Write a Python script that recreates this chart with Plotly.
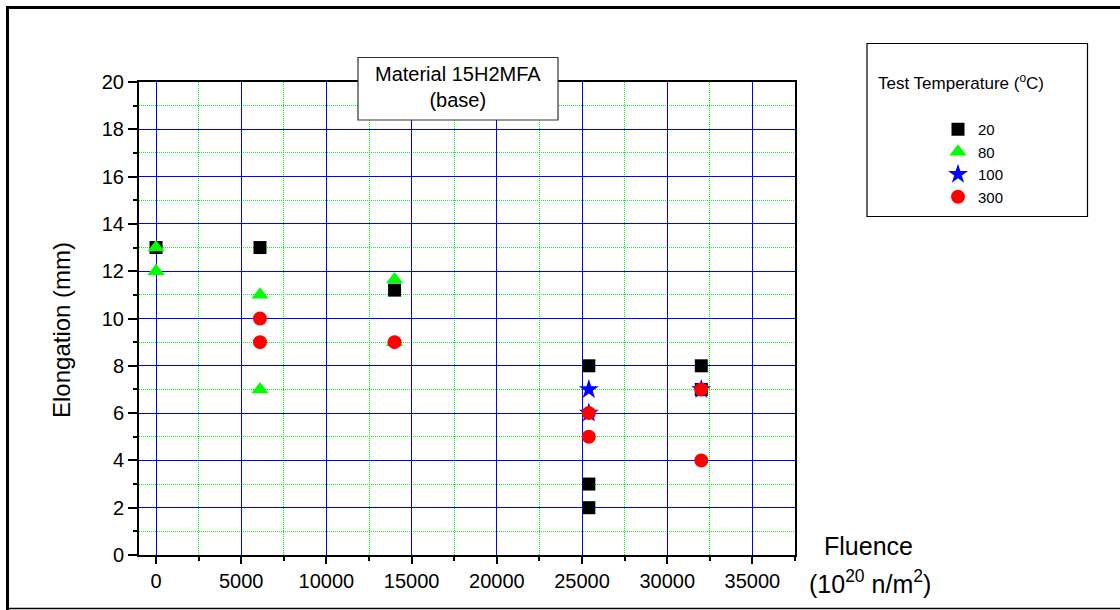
import plotly.graph_objects as go

# ---- data ----
temps = ["20", "80", "100", "300"]
x_20 = [0, 6100, 14000, 25400, 25400, 25400, 32000, 32000]
y_20 = [13, 13, 11.2, 8, 3, 2, 8, 7]
x_80 = [0, 0, 6100, 6100, 14000, 14000]
y_80 = [13, 12, 11, 7, 11.65, 9]
x_100 = [25400, 25400, 32000]
y_100 = [7, 6, 7]
x_300 = [6100, 6100, 14000, 25400, 25400, 32000, 32000]
y_300 = [10, 9, 9, 6, 5, 7, 4]

x_ticks = [0, 5000, 10000, 15000, 20000, 25000, 30000, 35000]
x_labels = ["0", "5000", "10000", "15000", "20000", "25000", "30000", "35000"]
y_ticks = [0, 2, 4, 6, 8, 10, 12, 14, 16, 18, 20]
y_labels = ["0", "2", "4", "6", "8", "10", "12", "14", "16", "18", "20"]

FONT = "Liberation Sans, Arial, sans-serif"

# plot area in pixels
L, R, T, B = 139, 795, 82, 555
W, H = 1120, 610


def px(xp):
    return (xp - L) / (R - L)


def py(yp):
    return (B - yp) / (B - T)


fig = go.Figure()
styles = [
    (x_20, y_20, "square", "#000000", 13),
    (x_80, y_80, "triangle-up", "#00ff00", 15),
    (x_100, y_100, "star", "#0000ff", 15),
    (x_300, y_300, "circle", "#ff0000", 14),
]
for name, (xs, ys, sym, col, sz) in zip(temps, styles):
    fig.add_trace(go.Scatter(
        x=xs, y=ys, mode="markers", name=name,
        marker=dict(symbol=sym, color=col, size=sz, line=dict(width=0)),
    ))

axis_common = dict(
    showline=True, linecolor="black", linewidth=2, mirror=True,
    showgrid=True, gridcolor="#0000ff", gridwidth=1, zeroline=False,
    ticks="outside", tickcolor="black", tickwidth=2,
    tickfont=dict(family=FONT, size=20, color="black"),
)

fig.update_xaxes(
    range=[-1000, 37500], tickmode="array", tickvals=x_ticks, ticktext=x_labels, ticklen=7,
    minor=dict(tickmode="linear", dtick=2500, tick0=0, ticks="outside", ticklen=4,
               tickcolor="black", showgrid=True, gridcolor="#00ff00", griddash="1px,1px",
               gridwidth=1),
    **axis_common,
)
fig.update_yaxes(
    range=[0, 20], tickmode="array", tickvals=y_ticks, ticktext=y_labels, ticklen=9,
    minor=dict(tickmode="linear", dtick=1, tick0=0, ticks="outside", ticklen=4,
               tickcolor="black", showgrid=True, gridcolor="#00ff00", griddash="1px,1px",
               gridwidth=1),
    **axis_common,
)

shapes = [
    # outer frame
    dict(type="line", xref="paper", yref="paper", x0=px(7.5), x1=px(7.5), y0=py(612), y1=py(6),
         line=dict(color="black", width=3)),
    dict(type="line", xref="paper", yref="paper", x0=px(6), x1=px(1125), y0=py(7.5), y1=py(7.5),
         line=dict(color="black", width=3)),
    dict(type="line", xref="paper", yref="paper", x0=px(6), x1=px(1125), y0=py(608.5), y1=py(608.5),
         line=dict(color="black", width=1.5)),
    # title box
    dict(type="rect", xref="paper", yref="paper", x0=px(358), x1=px(558), y0=py(120), y1=py(57.5),
         fillcolor="white", line=dict(color="#333333", width=1.2), layer="above"),
    # legend box
    dict(type="rect", xref="paper", yref="paper", x0=px(867), x1=px(1087.5), y0=py(216.5), y1=py(43.5),
         fillcolor="white", line=dict(color="black", width=1.2), layer="below"),
]

annotations = [
    dict(text="Material 15H2MFA<br>(base)", xref="paper", yref="paper", x=px(458), y=py(87),
         xanchor="center", yanchor="middle", showarrow=False,
         font=dict(family=FONT, size=20, color="black")),
    dict(text="Test Temperature (<sup>o</sup>C)", xref="paper", yref="paper", x=px(876), y=py(82),
         xanchor="left", yanchor="middle", showarrow=False,
         font=dict(family=FONT, size=17, color="black")),
    dict(text="Elongation (mm)", xref="paper", yref="paper", x=px(61), y=py(330),
         xanchor="center", yanchor="middle", showarrow=False, textangle=-90,
         font=dict(family=FONT, size=24, color="black")),
    dict(text="Fluence", xref="paper", yref="paper", x=px(868), y=py(546),
         xanchor="center", yanchor="middle", showarrow=False,
         font=dict(family=FONT, size=25, color="black")),
    dict(text="(10<sup>20</sup> n/m<sup>2</sup>)", xref="paper", yref="paper", x=px(870), y=py(582),
         xanchor="center", yanchor="middle", showarrow=False,
         font=dict(family=FONT, size=25, color="black")),
]

fig.update_layout(
    width=W, height=H,
    margin=dict(l=L, r=W - R, t=T, b=H - B, autoexpand=False),
    paper_bgcolor="white", plot_bgcolor="white",
    shapes=shapes, annotations=annotations,
    showlegend=True,
    legend=dict(x=px(938), y=py(113), xanchor="left", yanchor="top",
                bgcolor="rgba(0,0,0,0)", borderwidth=0,
                font=dict(family=FONT, size=15, color="black"),
                itemsizing="trace", tracegroupgap=0),
)

fig.write_html(
    "out.html",
    config={"displayModeBar": False},
    post_script="document.body.style.margin='0';document.body.style.overflow='hidden';",
)
